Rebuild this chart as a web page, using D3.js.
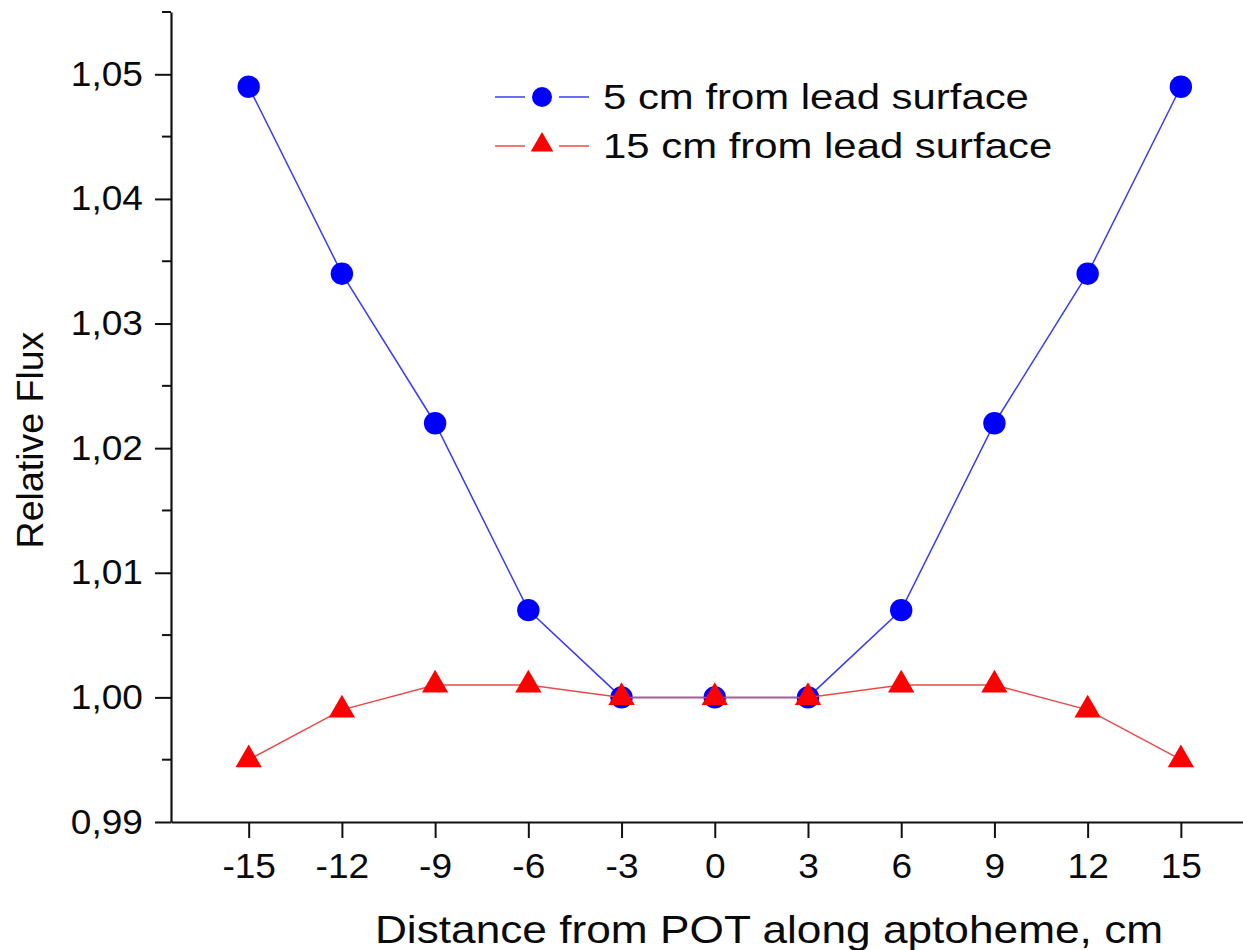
<!DOCTYPE html>
<html>
<head>
  <meta charset="utf-8">
  <title>Relative Flux along aptoheme</title>
  <script src="https://d3js.org/d3.v7.min.js"></script>
  <style>
    body { margin: 0; background: #fff; }
    svg text { font-family: "Liberation Sans", Arial, sans-serif; fill: #0a0a0a; }
  </style>
</head>
<body>
  <div id="chart"></div>
  <script>
    // data
    const distances = [-15, -12, -9, -6, -3, 0, 3, 6, 9, 12, 15];
    const flux5cm = [1.049, 1.034, 1.022, 1.007, 1.000, 1.000, 1.000, 1.007, 1.022, 1.034, 1.049];
    const flux15cm = [0.995, 0.999, 1.001, 1.001, 1.000, 1.000, 1.000, 1.001, 1.001, 0.999, 0.995];
    const seriesNames = ["5 cm from lead surface", "15 cm from lead surface"];
    const xTicks = [-15, -12, -9, -6, -3, 0, 3, 6, 9, 12, 15];
    const yTicks = [0.99, 1.00, 1.01, 1.02, 1.03, 1.04, 1.05];
    const yMinorTicks = [0.995, 1.005, 1.015, 1.025, 1.035, 1.045, 1.055];

    const W = 1243, H = 950;
    const sx = 1.06; // tick text in the picture is slightly wide

    const svg = d3.select("#chart").append("svg")
      .attr("width", W).attr("height", H);

    const x = d3.scaleLinear().domain([-17.5, 17]).range([171, 1243]);
    const y = d3.scaleLinear().domain([0.99, 1.055]).range([822, 12]);

    const comma = v => d3.format(".2f")(v).replace(".", ",");

    // x axis
    const gx = svg.append("g")
      .attr("transform", `translate(0,${y(0.99)})`)
      .call(d3.axisBottom(x).tickValues(xTicks).tickFormat(d => String(d)).tickSize(16).tickSizeOuter(0));
    gx.select(".domain").attr("stroke", "#111").attr("stroke-width", 2.2);
    gx.selectAll(".tick line").attr("stroke", "#111").attr("stroke-width", 2);
    gx.selectAll(".tick text")
      .attr("y", 56).attr("dy", 0)
      .attr("font-size", 35)
      .attr("transform", `scale(${sx},1)`);

    // y axis
    const gy = svg.append("g")
      .attr("transform", `translate(${x(-17.5)},0)`)
      .call(d3.axisLeft(y).tickValues(yTicks).tickFormat(comma).tickSize(16).tickSizeOuter(0));
    gy.select(".domain").attr("stroke", "#111").attr("stroke-width", 2.2);
    gy.selectAll(".tick line").attr("stroke", "#111").attr("stroke-width", 2);
    gy.selectAll(".tick text")
      .attr("x", -28 / sx).attr("dy", 0).attr("y", 11)
      .attr("font-size", 35)
      .attr("transform", `scale(${sx},1)`);

    gy.selectAll(".minor")
      .data(yMinorTicks)
      .enter().append("line")
      .attr("class", "minor")
      .attr("x1", -9).attr("x2", 0)
      .attr("y1", d => y(d)).attr("y2", d => y(d))
      .attr("stroke", "#111").attr("stroke-width", 2);

    // axis titles
    svg.append("text")
      .attr("transform", "translate(769,943) scale(1.12,1)")
      .attr("text-anchor", "middle")
      .attr("font-size", 39.5)
      .text("Distance from POT along aptoheme, cm");

    svg.append("text")
      .attr("transform", "translate(43,440) rotate(-90)")
      .attr("text-anchor", "middle")
      .attr("font-size", 37.5)
      .text("Relative Flux");

    const line = d3.line().x(d => x(d[0])).y(d => y(d[1]));
    const pts5 = distances.map((d, i) => [d, flux5cm[i]]);
    const pts15 = distances.map((d, i) => [d, flux15cm[i]]);

    const tri = d3.symbol().type(d3.symbolTriangle).size(300);

    // 5 cm series
    svg.append("path").datum(pts5)
      .attr("d", line).attr("fill", "none")
      .attr("stroke", "#3b3bf0").attr("stroke-width", 1.5);
    svg.selectAll(".dot5").data(pts5).enter().append("circle")
      .attr("class", "dot5")
      .attr("cx", d => x(d[0])).attr("cy", d => y(d[1]))
      .attr("r", 11.2).attr("fill", "#0000ff");

    // 15 cm series
    svg.append("path").datum(pts15)
      .attr("d", line).attr("fill", "none")
      .attr("stroke", "#e84a4a").attr("stroke-width", 1.5);
    svg.selectAll(".tri15").data(pts15).enter().append("path")
      .attr("class", "tri15")
      .attr("d", tri)
      .attr("transform", d => `translate(${x(d[0])},${y(d[1])})`)
      .attr("fill", "#ff0000");

    // legend
    const legend = svg.append("g");
    const rows = [
      { name: seriesNames[0], color: "#3b3bf0", fill: "#0000ff", yy: 97, tri: false },
      { name: seriesNames[1], color: "#e84a4a", fill: "#ff0000", yy: 146, tri: true }
    ];
    rows.forEach(r => {
      legend.append("line").attr("x1", 495).attr("x2", 525).attr("y1", r.yy).attr("y2", r.yy)
        .attr("stroke", r.color).attr("stroke-width", 1.5);
      legend.append("line").attr("x1", 559).attr("x2", 589).attr("y1", r.yy).attr("y2", r.yy)
        .attr("stroke", r.color).attr("stroke-width", 1.5);
      if (r.tri) {
        legend.append("path").attr("d", d3.symbol().type(d3.symbolTriangle).size(220))
          .attr("transform", `translate(542,${r.yy - 1})`).attr("fill", r.fill);
      } else {
        legend.append("circle").attr("cx", 542).attr("cy", r.yy).attr("r", 10).attr("fill", r.fill);
      }
      legend.append("text")
        .attr("transform", `translate(603,${r.yy + 12}) scale(1.17,1)`)
        .attr("font-size", 35.8)
        .text(r.name);
    });
  </script>
</body>
</html>
